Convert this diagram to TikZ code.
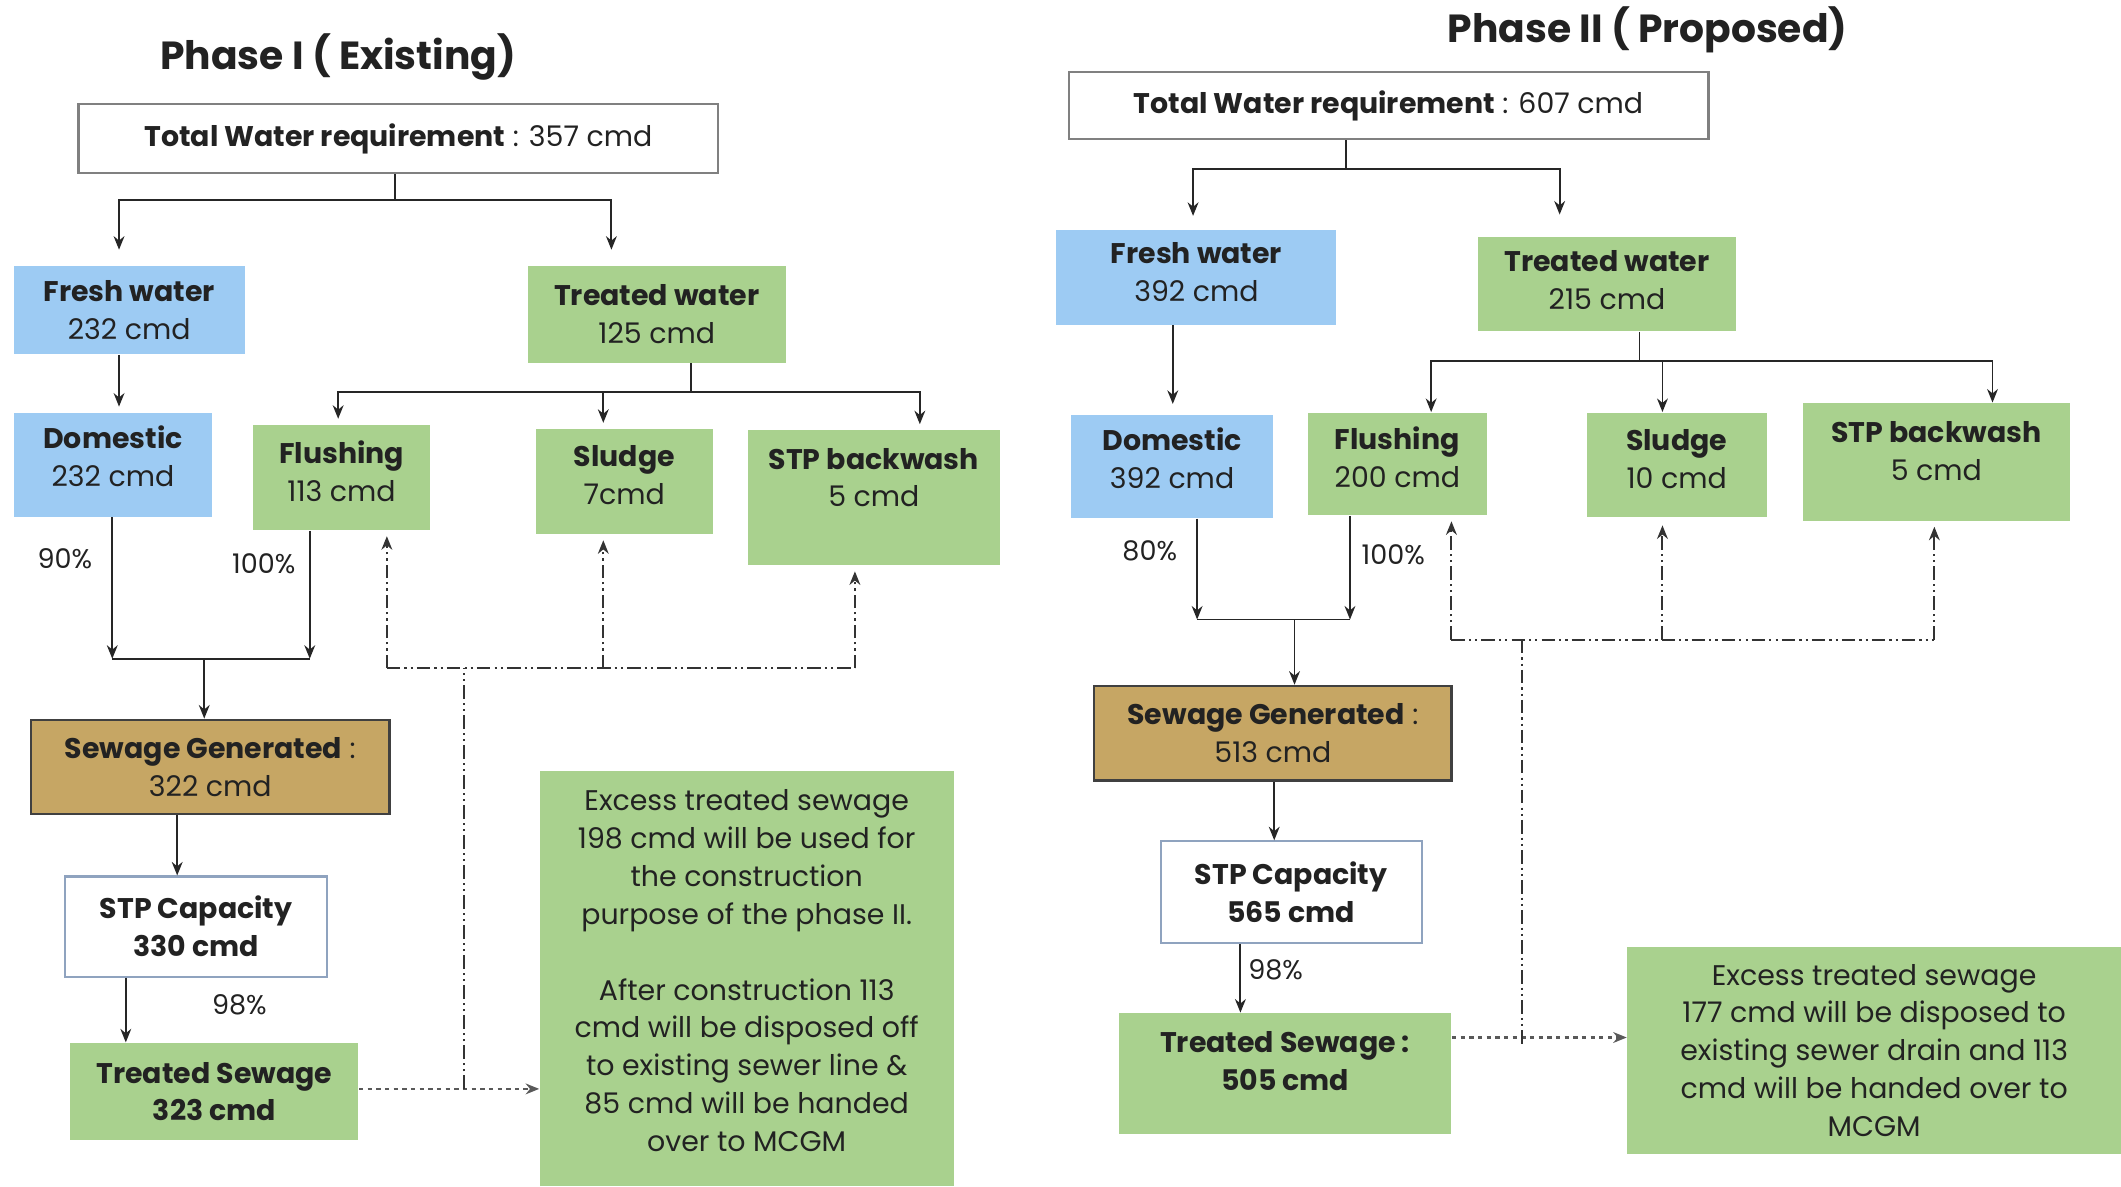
\documentclass[tikz,border=0pt]{standalone}
\usepackage{fontspec}
\setmainfont{Poppins}
\usetikzlibrary{arrows.meta}
\definecolor{bl}{HTML}{9DCBF3}
\definecolor{gr}{HTML}{A9D18E}
\definecolor{br}{HTML}{C6A664}
\definecolor{tx}{HTML}{222222}
\definecolor{stpb}{HTML}{8FA3BF}
\newcommand\bx[7]{\node[#2, minimum width={(#5-#3)*0.5pt}, minimum height={(#6-#4)*0.5pt}] (#1) at ({(#3+#5)/2},{(#4+#6)/2}) {#7};}
\newcommand\dn[1]{\rule[-#1pt]{0pt}{#1pt}}
\begin{document}
\begin{tikzpicture}[x=0.5pt,y=-0.5pt,
  every node/.style={inner sep=0pt, align=center, text=tx, font=\fontsize{10.5}{14}\selectfont},
  base/.style={rectangle},
  bluebox/.style={base, fill=bl},
  greenbox/.style={base, fill=gr},
  brownbox/.style={base, fill=br, draw=black!75, line width=0.8pt},
  whitebox/.style={base, fill=white, draw=stpb, line width=0.8pt},
  totbox/.style={base, fill=white, draw=black!50, line width=0.8pt},
  titletext/.style={font=\fontsize{14.5}{17}\selectfont\bfseries},
  pct/.style={font=\fontsize{10}{12}\selectfont},
  ln/.style={draw=black!85, line width=0.7pt},
  arr/.style={ln, -{Stealth[length=5pt,width=4pt]}},
  dd/.style={draw=black!80, line width=0.75pt, dash pattern=on 5pt off 1.5pt on 0.8pt off 1.5pt on 0.8pt off 1.5pt},
  ddarr/.style={dd, -{Stealth[length=5pt,width=4pt]}},
  dots/.style={draw=black!65, line width=0.8pt, dash pattern=on 1.6pt off 1.6pt, -{Stealth[length=5pt,width=4pt]}}
]
\useasboundingbox (0,0) rectangle (1568,877);
\fill[white] (0,0) rectangle (1568,877);

% ---------------- Phase I ----------------
\node[titletext] (t1) at (250,42) {Phase I ( Existing)};
\bx{tot1}{totbox}{58}{77}{531}{128}{\textbf{Total Water requirement} : 357 cmd}
\bx{fw1}{bluebox}{10}{197}{181}{262}{\textbf{Fresh water}\\232 cmd}
\bx{tw1}{greenbox}{390}{197}{581}{268}{\textbf{Treated water}\\125 cmd}
\bx{dom1}{bluebox}{10}{305}{157}{382}{\textbf{Domestic}\\232 cmd\dn{6}}
\bx{fl1}{greenbox}{187}{314}{318}{392}{\textbf{Flushing}\\113 cmd\dn{5}}
\bx{sl1}{greenbox}{396}{317}{527}{395}{\textbf{Sludge}\\7cmd\dn{5}}
\bx{bw1}{greenbox}{553}{318}{739}{418}{\textbf{STP backwash}\\5 cmd\dn{15}}
\bx{sg1}{brownbox}{23}{532}{288}{602}{\textbf{Sewage Generated} :\\322 cmd}
\bx{stp1}{whitebox}{48}{648}{242}{722}{\textbf{STP Capacity}\\\textbf{330 cmd}}
\bx{ts1}{greenbox}{52}{771}{265}{843}{\textbf{Treated Sewage}\\\textbf{323 cmd}}
\bx{ex1}{greenbox}{399}{570}{705}{877}{Excess treated sewage\\198 cmd will be used for\\the construction\\purpose of the phase II.\\[14pt]After construction 113\\cmd will be disposed off\\to existing sewer line \&\\85 cmd will be handed\\over to MCGM\dn{6}}

\node[pct] (p90) at (48,413) {90\%};
\node[pct] (p100a) at (195,417) {100\%};
\node[pct] (p98a) at (177,743) {98\%};

\coordinate (j1) at (292,148);
\coordinate (j2) at (511,290);
\coordinate (m1a) at (83,487);
\coordinate (m1b) at (229,487);
\coordinate (m1c) at (151,487);
\coordinate (d1a) at (343,494);
\coordinate (d1l) at (286,494);
\coordinate (d1r) at (632,494);
\coordinate (d1s) at (446,494);
\coordinate (d1b) at (343,805);

\draw[ln] (tot1.south -| j1) -- (j1);
\draw[arr, shorten >=6pt] (j1) -| (fw1.north -| 88,0);
\draw[arr, shorten >=6pt] (j1) -| (tw1.north -| 452,0);
\draw[arr, shorten >=2pt] (fw1.south -| 88,0) -- (dom1.north -| 88,0);
\draw[ln] (tw1.south -| j2) -- (j2);
\draw[arr, shorten >=2pt] (j2) -| (fl1.north -| 250,0);
\draw[arr, shorten >=2pt] (j2) -| (sl1.north -| 446,0);
\draw[arr, shorten >=2pt] (j2) -| (bw1.north -| 680,0);
\draw[arr] (dom1.south -| m1a) -- (m1a);
\draw[arr] (fl1.south -| m1b) -- (m1b);
\draw[ln] (m1a) -- (m1b);
\draw[arr] (m1c) -- (sg1.north -| m1c);
\draw[arr] (sg1.south -| 131,0) -- (stp1.north -| 131,0);
\draw[arr] (stp1.south -| 93,0) -- (ts1.north -| 93,0);
\draw[dots] (ts1.east |- d1b) -- (ex1.west |- d1b);
\draw[dd] (d1b) -- (d1a);
\draw[dd] (d1l) -- (d1r);
\draw[ddarr, shorten >=2pt] (d1l) -- (fl1.south -| d1l);
\draw[ddarr, shorten >=2pt] (d1s) -- (sl1.south -| d1s);
\draw[ddarr, shorten >=2pt] (d1r) -- (bw1.south -| d1r);

% ---------------- Phase II ----------------
\node[titletext] (t2) at (1218,22) {Phase II ( Proposed)};
\bx{tot2}{totbox}{790}{53}{1263}{103}{\textbf{Total Water requirement} : 607 cmd}
\bx{fw2}{bluebox}{781}{170}{988}{240}{\textbf{Fresh water}\\392 cmd\dn{4}}
\bx{tw2}{greenbox}{1093}{175}{1283}{245}{\textbf{Treated water}\\215 cmd\dn{3}}
\bx{dom2}{bluebox}{792}{307}{941}{383}{\textbf{Domestic}\\392 cmd\dn{6}}
\bx{fl2}{greenbox}{967}{305}{1099}{381}{\textbf{Flushing}\\200 cmd\dn{5}}
\bx{sl2}{greenbox}{1173}{305}{1306}{382}{\textbf{Sludge}\\10 cmd\dn{4}}
\bx{bw2}{greenbox}{1333}{298}{1530}{385}{\textbf{STP backwash}\\5 cmd\dn{8}}
\bx{sg2}{brownbox}{809}{507}{1073}{577}{\textbf{Sewage Generated} :\\513 cmd}
\bx{stp2}{whitebox}{858}{622}{1051}{697}{\textbf{STP Capacity}\\\textbf{565 cmd}}
\bx{ts2}{greenbox}{827}{749}{1073}{838}{\textbf{Treated Sewage :}\\\textbf{505 cmd}\dn{9}}
\bx{ex2}{greenbox}{1203}{700}{1568}{853}{Excess treated sewage\\177 cmd will be disposed to\\existing sewer drain and 113\\cmd will be handed over to\\MCGM}

\node[pct] (p80) at (850,407) {80\%};
\node[pct] (p100b) at (1030,410) {100\%};
\node[pct] (p98b) at (943,717) {98\%};

\coordinate (j3) at (995,125);
\coordinate (j4) at (1212,267);
\coordinate (m2a) at (885,458);
\coordinate (m2b) at (998,458);
\coordinate (m2c) at (957,458);
\coordinate (d2l) at (1073,473);
\coordinate (d2r) at (1430,473);
\coordinate (d2s) at (1229,473);
\coordinate (d2a) at (1125,473);
\coordinate (d2b) at (1125,773);

\draw[ln] (tot2.south -| j3) -- (j3);
\draw[arr, shorten >=5pt] (j3) -| (fw2.north -| 882,0);
\draw[arr, shorten >=8pt] (j3) -| (tw2.north -| 1153,0);
\draw[arr, shorten >=4pt] (fw2.south -| 867,0) -- (dom2.north -| 867,0);
\draw[ln] (tw2.south -| j4) -- (j4);
\draw[arr] (j4) -| (fl2.north -| 1058,0);
\draw[arr] (j4) -| (sl2.north -| 1229,0);
\draw[arr] (j4) -| (bw2.north -| 1473,0);
\draw[arr] (dom2.south -| m2a) -- (m2a);
\draw[arr] (fl2.south -| m2b) -- (m2b);
\draw[ln] (m2a) -- (m2b);
\draw[arr] (m2c) -- (sg2.north -| m2c);
\draw[arr] (sg2.south -| 942,0) -- (stp2.north -| 942,0);
\draw[arr] (stp2.south -| 917,0) -- (ts2.north -| 917,0);
\draw[dots] (ts2.east |- 0,767) -- (ex2.west |- 0,767);
\draw[dd] (d2a) -- (d2b);
\draw[dd] (d2l) -- (d2r);
\draw[ddarr, shorten >=2pt] (d2l) -- (fl2.south -| d2l);
\draw[ddarr, shorten >=3pt] (d2s) -- (sl2.south -| d2s);
\draw[ddarr, shorten >=2pt] (d2r) -- (bw2.south -| d2r);
\end{tikzpicture}
\end{document}
